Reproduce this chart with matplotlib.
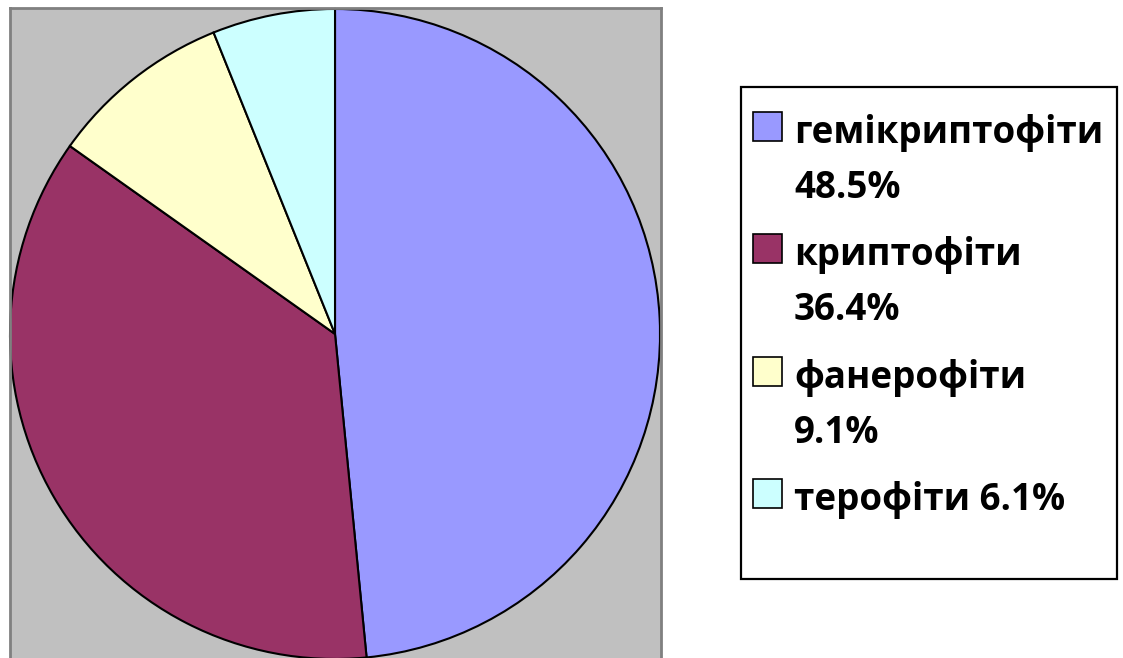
import matplotlib.pyplot as plt
from matplotlib.patches import Rectangle

plt.rcParams['font.family'] = ['Open Sans', 'DejaVu Sans']

names = ["гемікриптофіти", "криптофіти", "фанерофіти", "терофіти"]
shares = [48.5, 36.4, 9.1, 6.1]
legend_lines = [["гемікриптофіти", "48.5%"],
                ["криптофіти", "36.4%"],
                ["фанерофіти", "9.1%"],
                ["терофіти 6.1%"]]
colors = ["#9999FF", "#993366", "#FFFFCC", "#CCFFFF"]

W, H = 1123, 658
fig = plt.figure(figsize=(W / 100, H / 100), dpi=100)

# plot area (grey), bottom edge is cut off in the original
ax = fig.add_axes([10 / W, 0, 651 / W, 650 / H])
ax.set_facecolor("#C0C0C0")
ax.pie(shares, colors=colors, startangle=90, counterclock=False, frame=True,
       wedgeprops=dict(edgecolor="black", linewidth=1.5))
ax.set_aspect("auto")
ax.set_xlim(-1.0, 1.003)
ax.set_ylim(-0.997, 1.003)
ax.set_xticks([])
ax.set_yticks([])
for s in ["left", "right", "top"]:
    ax.spines[s].set_color("#808080")
    ax.spines[s].set_linewidth(2)
ax.spines["bottom"].set_visible(False)

# legend box, drawn by hand because of the wrapped labels
def fx(px):
    return px / W

def fy(py):
    return 1 - py / H

fig.patches.append(Rectangle((fx(741), fy(579)), fx(1117) - fx(741), fy(87) - fy(579),
                             transform=fig.transFigure, facecolor="white",
                             edgecolor="black", linewidth=1.6))
top = 112
step = 122.3
for i, lines in enumerate(legend_lines):
    y0 = top + i * step
    fig.patches.append(Rectangle((fx(753), fy(y0 + 29)), 29 / W, 29 / H,
                                 transform=fig.transFigure, facecolor=colors[i],
                                 edgecolor="black", linewidth=1.2))
    for j, line in enumerate(lines):
        fig.text(fx(794), fy(y0 + 31 + j * 55), line, fontsize=26.5,
                 fontweight="bold", va="baseline", ha="left")

fig.savefig("out.png", dpi=100)
